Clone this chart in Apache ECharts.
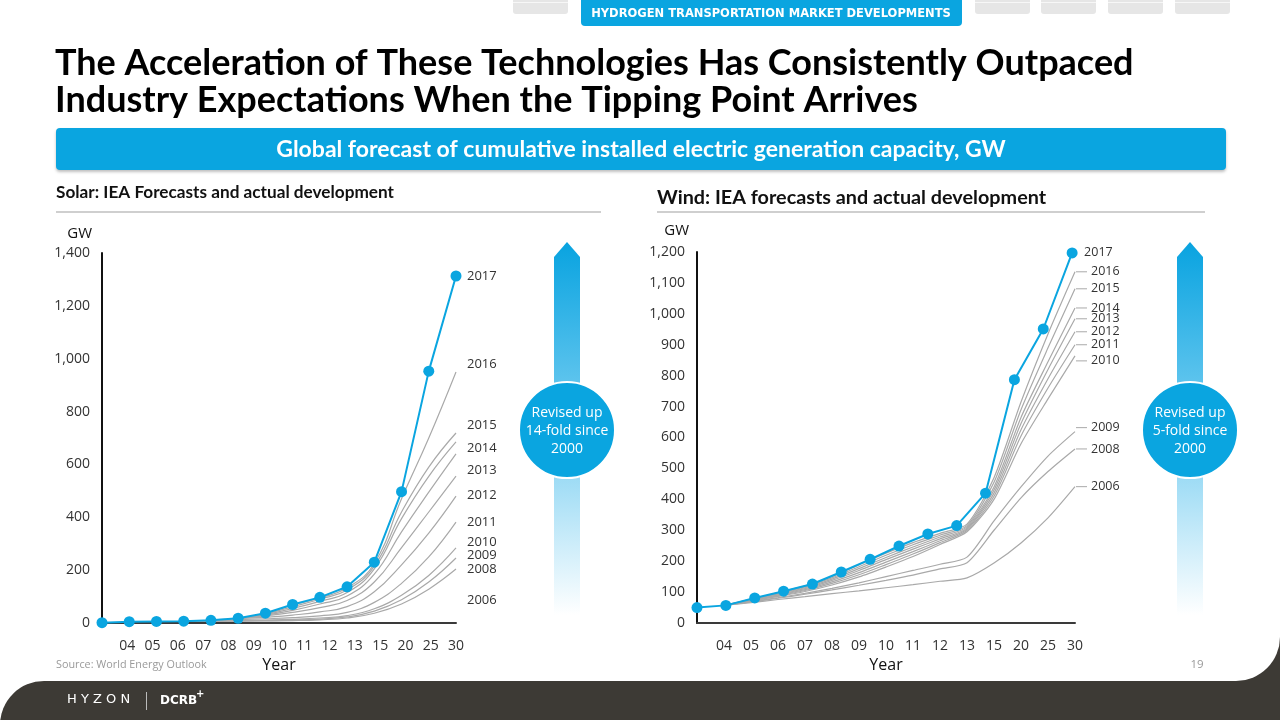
<!DOCTYPE html>
<html><head><meta charset="utf-8">
<script src="https://cdn.jsdelivr.net/npm/echarts@6/dist/echarts.min.js"></script>
<style>html,body{margin:0;padding:0;background:#fff}#c{width:1280px;height:720px}</style>
</head><body><div id="c"></div>
<script>
// ---------- data ----------
const solarCategories = ['', '04', '05', '06', '07', '08', '09', '10', '11', '12', '13', '15', '20', '25', '30'];
const solarActual = [1, 5, 6, 7, 10, 18, 37, 70, 97, 137, 230, 497, 953, 1313];
const solar2016 = [null, null, null, null, null, 18, 36, 68, 95, 133, 225, 470, 700, 950];
const solar2015 = [null, null, null, null, null, 18, 34, 62, 90, 125, 215, 420, 590, 719];
const solar2014 = [null, null, null, null, null, 18, 32, 55, 82, 115, 205, 395, 555, 685];
const solar2013 = [null, null, null, null, null, 18, 30, 48, 72, 102, 185, 345, 495, 640];
const solar2012 = [null, null, null, null, null, 18, 27, 40, 58, 85, 155, 285, 420, 556];
const solar2011 = [null, null, null, null, 12, 16, 22, 30, 42, 62, 118, 220, 340, 480];
const solar2010 = [null, null, null, null, 10, 13, 16, 20, 27, 40, 78, 150, 250, 382];
const solar2009 = [null, null, null, 7, 8, 9, 11, 14, 19, 28, 54, 105, 180, 284];
const solar2008 = [null, null, null, 7, 7, 8, 9, 11, 15, 23, 45, 88, 155, 246];
const solar2006 = [null, null, null, 7, 7, 7, 8, 9, 12, 19, 37, 72, 128, 204];
const solarForecastNames = ['2016', '2015', '2014', '2013', '2012', '2011', '2010', '2009', '2008', '2006'];
const solarYTicks = [0, 200, 400, 600, 800, 1000, 1200, 1400];

const windCategories = ['', '04', '05', '06', '07', '08', '09', '10', '11', '12', '13', '15', '20', '25', '30'];
const windActual = [50, 57, 81, 103, 126, 165, 206, 249, 288, 315, 420, 787, 951, 1197];
const wind2016 = [null, 57, 77, 98, 120, 150, 188, 226, 260, 290, 320, 470, 715, 935, 1136];
const wind2015 = [null, 57, 76, 96, 117, 146, 182, 219, 253, 284, 315, 455, 690, 890, 1081];
const wind2014 = [null, 57, 75, 94, 114, 142, 176, 212, 246, 278, 311, 440, 665, 845, 1019];
const wind2013 = [null, 57, 74, 92, 111, 138, 170, 205, 239, 272, 307, 430, 645, 820, 984];
const wind2012 = [null, 57, 73, 90, 108, 133, 163, 197, 231, 266, 303, 420, 625, 790, 942];
const wind2011 = [null, 57, 72, 88, 105, 128, 156, 189, 223, 260, 299, 410, 605, 760, 900];
const wind2010 = [null, 57, 71, 86, 102, 123, 149, 181, 215, 254, 295, 400, 580, 725, 864];
const wind2009 = [null, 57, 69, 82, 96, 112, 130, 150, 170, 190, 213, 330, 440, 540, 619];
const wind2008 = [null, 57, 68, 80, 93, 107, 122, 138, 155, 175, 195, 300, 405, 490, 563];
const wind2006 = [null, 57, 66, 76, 85, 95, 104, 114, 124, 135, 146, 194, 259, 340, 441];
const windForecastNames = ['2016', '2015', '2014', '2013', '2012', '2011', '2010', '2009', '2008', '2006'];
const windYTicks = [0, 100, 200, 300, 400, 500, 600, 700, 800, 900, 1000, 1100, 1200];

// ---------- styling ----------
const BLUE = '#0aa5e0';
const GRAY = '#a9a9a9';
const FONT = '"Open Sans", "Noto Sans", sans-serif';
const HEAD = 'Lato, "Open Sans", sans-serif';
const solarLabelShift = [-8, -8, 6, 16, 19, 26, 20, 7, 11, 31];
const windLabelShift = [0, 0, 0, 0, 0, 0, 5, -4, 0, 0];

const solarSeriesData = [solar2016, solar2015, solar2014, solar2013, solar2012, solar2011, solar2010, solar2009, solar2008, solar2006];
const windSeriesData = [wind2016, wind2015, wind2014, wind2013, wind2012, wind2011, wind2010, wind2009, wind2008, wind2006];

const toPairs = arr => arr.map((v, i) => v == null ? null : [i, v]).filter(p => p);

const series = [];
solarSeriesData.forEach((arr, k) => {
  series.push({
    type: 'line', xAxisIndex: 1, yAxisIndex: 0, data: toPairs(arr), smooth: 0.45,
    symbol: 'none', silent: true, z: 2,
    lineStyle: { color: GRAY, width: 1.2 },
    endLabel: { show: true, formatter: solarForecastNames[k], distance: 11, offset: [0, solarLabelShift[k]],
      color: '#333', fontSize: 13, fontFamily: FONT }
  });
});
series.push({
  type: 'line', xAxisIndex: 1, yAxisIndex: 0, data: toPairs(solarActual), z: 5,
  symbol: 'circle', symbolSize: 11, lineStyle: { color: BLUE, width: 2 }, itemStyle: { color: BLUE },
  endLabel: { show: true, formatter: '2017', distance: 11, color: '#333', fontSize: 13, fontFamily: FONT }
});
windSeriesData.forEach((arr, k) => {
  series.push({
    type: 'line', xAxisIndex: 2, yAxisIndex: 1, data: arr, smooth: 0.25,
    symbol: 'none', silent: true, z: 2,
    lineStyle: { color: GRAY, width: 1.2 },
    endLabel: { show: true, formatter: '{l| }{t|' + windForecastNames[k] + '}', distance: 1, offset: [0, windLabelShift[k]],
      rich: { l: { width: 11, height: 1, backgroundColor: GRAY }, t: { padding: [0, 0, 0, 4], color: '#333', fontSize: 12.5, fontFamily: FONT } } }
  });
});
series.push({
  type: 'line', xAxisIndex: 3, yAxisIndex: 1, data: toPairs(windActual), z: 5,
  symbol: 'circle', symbolSize: 11, lineStyle: { color: BLUE, width: 2 }, itemStyle: { color: BLUE },
  endLabel: { show: true, formatter: '2017', distance: 12, color: '#333', fontSize: 12.5, fontFamily: FONT }
});

const catAxis = (grid, cats) => ({
  type: 'category', gridIndex: grid, data: cats, boundaryGap: false,
  axisLine: { show: true, lineStyle: { color: '#3a3a3a', width: 2 } },
  axisTick: { show: false }, splitLine: { show: false },
  axisLabel: { interval: 0, margin: 16, color: '#333', fontSize: 14, fontFamily: FONT },
  name: 'Year', nameLocation: 'middle', nameGap: 34,
  nameTextStyle: { color: '#111', fontSize: 16, fontFamily: FONT }
});
const valAxisX = (grid, max) => ({ type: 'value', gridIndex: grid, min: 0, max: max, show: false });
const yAx = (grid, ticks, padRight, gap) => ({
  type: 'value', gridIndex: grid, min: ticks[0], max: ticks[ticks.length - 1], interval: ticks[1] - ticks[0],
  axisLine: { show: true, lineStyle: { color: '#111', width: 2 } },
  axisTick: { show: false }, splitLine: { show: false },
  axisLabel: { margin: 12, color: '#333', fontSize: 14, fontFamily: FONT, formatter: v => v.toLocaleString('en-US') },
  name: 'GW', nameLocation: 'end', nameGap: gap,
  nameTextStyle: { color: '#111', fontSize: 15, fontFamily: FONT, align: 'right', padding: [0, padRight, 0, 0] }
});

const tabXs = [513, 975, 1041, 1108, 1175];
const graphic = [
  // header tabs
  ...tabXs.map(x => ({ type: 'rect', shape: { x: x, y: 0, width: 55, height: 14, r: [0, 0, 3, 3] }, style: { fill: '#e6e6e6' } })),
  ...tabXs.map(x => ({ type: 'rect', shape: { x: x, y: 2, width: 55, height: 1 }, style: { fill: '#f7f7f7' } })),
  { type: 'rect', shape: { x: 581, y: -4, width: 381, height: 30, r: 4 }, style: { fill: BLUE } },
  { type: 'text', x: 771, y: 14, style: { text: 'HYDROGEN TRANSPORTATION MARKET DEVELOPMENTS', fill: '#fff', font: 'bold 11.5px "DejaVu Sans", sans-serif', align: 'center', verticalAlign: 'middle' } },
  // title
  { type: 'text', x: 55, y: 63, style: { text: 'The Acceleration of These Technologies Has Consistently Outpaced', fill: '#000', font: 'bold 36px ' + HEAD, verticalAlign: 'middle' } },
  { type: 'text', x: 55, y: 100, style: { text: 'Industry Expectations When the Tipping Point Arrives', fill: '#000', font: 'bold 36px ' + HEAD, verticalAlign: 'middle' } },
  // banner
  { type: 'rect', shape: { x: 56, y: 128, width: 1170, height: 42, r: 4 }, style: { fill: BLUE, shadowBlur: 3, shadowOffsetY: 2, shadowColor: 'rgba(0,0,0,0.25)' } },
  { type: 'text', x: 641, y: 150, style: { text: 'Global forecast of cumulative installed electric generation capacity, GW', fill: '#fff', font: 'bold 23px ' + HEAD, align: 'center', verticalAlign: 'middle' } },
  // sub headers
  { type: 'text', x: 56, y: 192, style: { text: 'Solar: IEA Forecasts and actual development', fill: '#111', font: 'bold 17.2px ' + HEAD, verticalAlign: 'middle' } },
  { type: 'rect', shape: { x: 56, y: 211, width: 545, height: 2 }, style: { fill: '#cfcfcf' } },
  { type: 'text', x: 657, y: 198, style: { text: 'Wind: IEA forecasts and actual development', fill: '#111', font: 'bold 19.8px ' + HEAD, verticalAlign: 'middle' } },
  { type: 'rect', shape: { x: 657, y: 211, width: 548, height: 2 }, style: { fill: '#cfcfcf' } },
  // arrows
  ...[567, 1190].map(cx => ({ type: 'polygon', shape: { points: [[cx - 13, 615], [cx - 13, 257], [cx, 242], [cx + 13, 257], [cx + 13, 615]] },
    style: { fill: { type: 'linear', x: 0, y: 0, x2: 0, y2: 1, colorStops: [{ offset: 0, color: '#08a3e0' }, { offset: 0.45, color: '#6dcaf0' }, { offset: 1, color: '#ffffff' }] } } })),
  { type: 'circle', shape: { cx: 567, cy: 430, r: 48 }, style: { fill: BLUE, stroke: '#fff', lineWidth: 2 } },
  { type: 'text', x: 567, y: 431, style: { text: 'Revised up\n14-fold since\n2000', fill: '#fff', font: '14px ' + FONT, align: 'center', verticalAlign: 'middle', lineHeight: 18 } },
  { type: 'circle', shape: { cx: 1190, cy: 430, r: 48 }, style: { fill: BLUE, stroke: '#fff', lineWidth: 2 } },
  { type: 'text', x: 1190, y: 431, style: { text: 'Revised up\n5-fold since\n2000', fill: '#fff', font: '14px ' + FONT, align: 'center', verticalAlign: 'middle', lineHeight: 18 } },
  // footer
  { type: 'text', x: 56, y: 665, style: { text: 'Source: World Energy Outlook', fill: '#9a9a9a', font: '10.8px ' + FONT, verticalAlign: 'middle' } },
  { type: 'text', x: 1197, y: 665, style: { text: '19', fill: '#9a9a9a', font: '11.5px ' + FONT, align: 'center', verticalAlign: 'middle' } },
  { type: 'rect', shape: { x: 0, y: 681, width: 1280, height: 45, r: [44, 0, 0, 0] }, style: { fill: '#3d3a35' } },
  { type: 'rect', shape: { x: 1236, y: 637, width: 44, height: 46 }, style: { fill: '#3d3a35' } },
  { type: 'sector', shape: { cx: 1236, cy: 637, r0: 0, r: 44, startAngle: 0, endAngle: Math.PI / 2, clockwise: true }, style: { fill: '#ffffff' } },
  { type: 'text', x: 67, y: 700, style: { text: 'H Y Z O N', fill: '#fff', font: '13px "DejaVu Sans", sans-serif', verticalAlign: 'middle' } },
  { type: 'rect', shape: { x: 146, y: 692, width: 1, height: 18 }, style: { fill: '#bbb' } },
  { type: 'text', x: 160, y: 701, style: { text: 'DCRB', fill: '#fff', font: 'bold 12px "DejaVu Sans", sans-serif', verticalAlign: 'middle' } },
  { type: 'text', x: 196, y: 694, style: { text: '+', fill: '#fff', font: 'bold 10px "DejaVu Sans", sans-serif', verticalAlign: 'middle' } }
];

const option = {
  animation: false,
  backgroundColor: '#fff',
  grid: [
    { left: 102, top: 253, width: 354, height: 370, outerBoundsMode: 'none', containLabel: false },
    { left: 697, top: 252, width: 378, height: 371, outerBoundsMode: 'none', containLabel: false }
  ],
  xAxis: [catAxis(0, solarCategories), valAxisX(0, 13), catAxis(1, windCategories), valAxisX(1, 13.1)],
  yAxis: [yAx(0, solarYTicks, 10, 12), yAx(1, windYTicks, 8, 14)],
  series: series,
  graphic: graphic
};
const chart = echarts.init(document.getElementById('c'), null, { renderer: 'canvas' });
chart.setOption(option);
</script></body></html>
